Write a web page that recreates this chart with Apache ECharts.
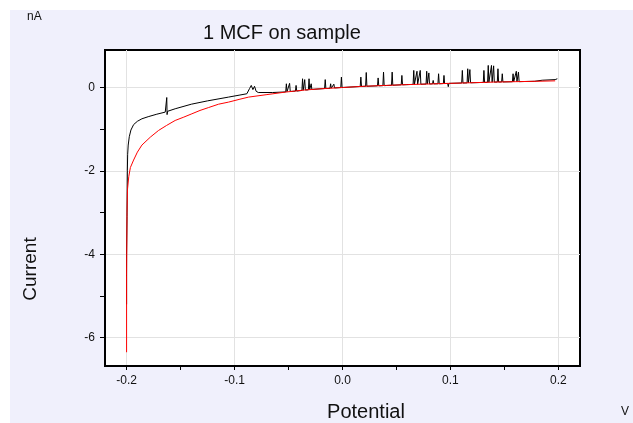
<!DOCTYPE html>
<html>
<head>
<meta charset="utf-8">
<script src="https://cdn.jsdelivr.net/npm/echarts@6.0.0/dist/echarts.min.js"></script>
<style>
  html, body { margin: 0; padding: 0; background: #fff; }
  #chart { width: 633px; height: 423px; }
</style>
</head>
<body>
<div id="chart"></div>
<script>
// potential (V) and current (nA)
const blackV = [
  -0.2, -0.2, -0.1996, -0.1993, -0.199, -0.1985, -0.1975, -0.196, -0.1935, -0.19,
  -0.1858, -0.18, -0.172, -0.1642, -0.1632, -0.1628, -0.1625, -0.162, -0.155, -0.14,
  -0.125, -0.1056, -0.095, -0.0886, -0.086, -0.0845, -0.083, -0.0815, -0.08, -0.078,
  -0.065, -0.056,
  -0.0526, -0.052, -0.0514, -0.0496, -0.049, -0.0484, -0.0436, -0.043, -0.0424,
  -0.0376, -0.037, -0.0364, -0.0356, -0.035, -0.0344, -0.0316, -0.031, -0.0304,
  -0.0296, -0.029, -0.0284, -0.0166, -0.016, -0.0154, -0.0116, -0.011, -0.0104,
  -0.0086, -0.008, -0.0074, -0.0016, -0.001, -0.0004,
  0.0164, 0.017, 0.0176, 0.0214, 0.022, 0.0226, 0.0324, 0.033, 0.0336,
  0.0374, 0.038, 0.0386, 0.0454, 0.046, 0.0466, 0.0544, 0.055, 0.0556,
  0.0654, 0.066, 0.0666, 0.0684, 0.069, 0.0696, 0.0714, 0.072, 0.0726,
  0.0774, 0.078, 0.0786, 0.0794, 0.08, 0.0806, 0.0834, 0.084, 0.0846,
  0.0884, 0.089, 0.0896, 0.0934, 0.094, 0.0946, 0.0974, 0.098, 0.0986,
  0.1104, 0.111, 0.1116, 0.1154, 0.116, 0.1166, 0.1174, 0.118, 0.1186,
  0.1304, 0.131, 0.1316, 0.1344, 0.135, 0.1356, 0.1374, 0.138, 0.1386,
  0.1394, 0.14, 0.1406, 0.1434, 0.144, 0.1446, 0.1474, 0.148, 0.1486,
  0.1574, 0.158, 0.1586, 0.1604, 0.161, 0.1616, 0.1624, 0.163, 0.1636,
  0.17, 0.178, 0.185, 0.197, 0.199
];
const blackI = [
  -5.2, -4.0, -3.1, -2.0, -1.6, -1.38, -1.18, -1.02, -0.89, -0.81,
  -0.75, -0.70, -0.64, -0.59, -0.57, -0.24, -0.65, -0.57, -0.51, -0.40,
  -0.32, -0.23, -0.18, -0.15, -0.02, 0.05, -0.05, 0.03, -0.09, -0.12,
  -0.12, -0.11,
  -0.105, 0.09, -0.10, -0.10, 0.10, -0.095, -0.085, 0.05, -0.085,
  -0.07, 0.21, -0.065, -0.06, 0.19, -0.06, -0.055, 0.21, -0.05,
  -0.05, 0.09, -0.045, -0.025, 0.19, -0.025, -0.02, 0.09, -0.015,
  -0.015, 0.08, -0.01, 0, 0.25, 0,
  0.025, 0.25, 0.025, 0.03, 0.36, 0.03, 0.04, 0.23, 0.04,
  0.045, 0.37, 0.045, 0.055, 0.37, 0.055, 0.065, 0.29, 0.065,
  0.075, 0.41, 0.075, 0.077, 0.39, 0.077, 0.078, 0.41, 0.078,
  0.083, 0.39, 0.083, 0.085, 0.35, 0.085, 0.088, 0.17, 0.088,
  0.09, 0.33, 0.09, 0.095, 0.29, 0.095, 0.098, 0.02, 0.1,
  0.108, 0.41, 0.108, 0.112, 0.45, 0.112, 0.113, 0.43, 0.113,
  0.122, 0.41, 0.122, 0.125, 0.53, 0.125, 0.128, 0.53, 0.128,
  0.129, 0.52, 0.13, 0.132, 0.45, 0.132, 0.134, 0.33, 0.134,
  0.139, 0.33, 0.139, 0.14, 0.39, 0.14, 0.141, 0.37, 0.141,
  0.145, 0.15, 0.175, 0.19, 0.21
];

const redV = [
  -0.2, -0.2, -0.1996, -0.1992, -0.198, -0.1965, -0.1935, -0.19, -0.1858, -0.178,
  -0.1704, -0.163, -0.155, -0.147, -0.1395, -0.132, -0.124, -0.1148, -0.1056, -0.095,
  -0.087, -0.07, -0.053, -0.035, -0.02, 0.0, 0.02, 0.04, 0.06, 0.08,
  0.1, 0.12, 0.14, 0.16, 0.18, 0.197
];
const redI = [
  -6.35, -4.5, -3.0, -2.45, -2.14, -1.92, -1.74, -1.55, -1.38, -1.19,
  -1.03, -0.91, -0.79, -0.71, -0.63, -0.55, -0.48, -0.40, -0.35, -0.28,
  -0.23, -0.17, -0.11, -0.06, -0.03, 0.0, 0.03, 0.05, 0.07, 0.085,
  0.1, 0.115, 0.13, 0.14, 0.15, 0.16
];

const xTicks = [-0.2, -0.15, -0.1, -0.05, 0, 0.05, 0.1, 0.15, 0.2];
const xLabels = [-0.2, -0.1, 0, 0.1, 0.2];
const yTicks = [-6, -5, -4, -3, -2, -1, 0];
const yLabels = [-6, -4, -2, 0];

const font = 'Liberation Sans, Arial, sans-serif';
const chart = echarts.init(document.getElementById('chart'));

const pairs = (xs, ys) => xs.map((x, i) => [x, ys[i]]);

const option = {
  animation: false,
  backgroundColor: '#fff',
  title: {
    text: '1 MCF on sample',
    left: 198,
    top: 18,
    textStyle: { fontFamily: font, fontSize: 20, fontWeight: 'normal', color: '#111' }
  },
  graphic: [
    { type: 'rect', z: -10, silent: true, shape: { x: 10, y: 10, width: 623, height: 413 }, style: { fill: '#f0f0fc' } },
    { type: 'text', left: 27, top: 11, style: { text: 'nA', fontFamily: font, fontSize: 12, fill: '#111' } },
    { type: 'text', x: 31, y: 269, rotation: Math.PI / 2, style: { text: 'Current', fontFamily: font, fontSize: 19, fill: '#111', align: 'center', verticalAlign: 'middle' } },
    { type: 'text', x: 366, y: 412, style: { text: 'Potential', fontFamily: font, fontSize: 20, fill: '#111', align: 'center', verticalAlign: 'middle' } },
    { type: 'text', x: 625, y: 412, style: { text: 'V', fontFamily: font, fontSize: 12, fill: '#111', align: 'center', verticalAlign: 'middle' } }
  ],
  grid: {
    left: 105, right: 53, top: 50, bottom: 57,
    show: true,
    backgroundColor: '#fff',
    borderColor: '#000',
    borderWidth: 2
  },
  xAxis: [
    {
      type: 'value', min: -0.22, max: 0.22,
      axisLine: { show: true, onZero: false, lineStyle: { color: '#000', width: 2 } },
      axisTick: { show: true, customValues: xTicks, length: 4, lineStyle: { color: '#000' } },
      axisLabel: { customValues: xLabels, formatter: v => v.toFixed(1), fontFamily: font, fontSize: 12, color: '#111', margin: 9 },
      splitLine: { show: false }
    },
    {
      type: 'value', min: -0.22, max: 0.22, position: 'bottom',
      axisLine: { show: false },
      axisTick: { show: false, customValues: xLabels },
      axisLabel: { show: false },
      splitLine: { show: true, lineStyle: { color: '#e2e2e2', width: 1 } }
    }
  ],
  yAxis: [
    {
      type: 'value', min: -6.68, max: 0.9,
      axisLine: { show: true, onZero: false, lineStyle: { color: '#000', width: 2 } },
      axisTick: { show: true, customValues: yTicks, length: 5, lineStyle: { color: '#000' } },
      axisLabel: { customValues: yLabels, formatter: v => String(v), fontFamily: font, fontSize: 12, color: '#111', margin: 10, padding: [0, 0, 3, 0] },
      splitLine: { show: false }
    },
    {
      type: 'value', min: -6.68, max: 0.9, position: 'left',
      axisLine: { show: false },
      axisTick: { show: false, customValues: yLabels },
      axisLabel: { show: false },
      splitLine: { show: true, lineStyle: { color: '#e2e2e2', width: 1 } }
    }
  ],
  series: [
    {
      name: 'black',
      type: 'line',
      data: pairs(blackV, blackI),
      symbol: 'none',
      lineStyle: { color: '#000', width: 1 },
      z: 3
    },
    {
      name: 'red',
      type: 'line',
      data: pairs(redV, redI),
      symbol: 'none',
      lineStyle: { color: '#ff0000', width: 1 },
      z: 4
    }
  ]
};

chart.setOption(option);
</script>
</body>
</html>
